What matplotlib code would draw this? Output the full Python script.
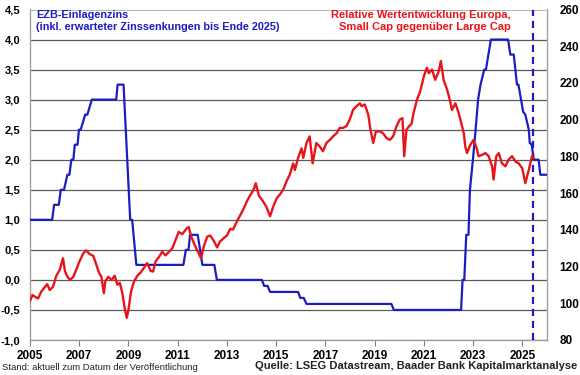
import matplotlib
matplotlib.use('Agg')
import matplotlib.pyplot as plt
from matplotlib.ticker import FuncFormatter

plt.rcParams['font.family'] = ['Liberation Sans', 'DejaVu Sans']

# ECB deposit rate (incl. expected cuts until end of 2025), line vertices as read
rate_years = [2005.00, 2005.90, 2005.98, 2006.17, 2006.25, 2006.38, 2006.52, 2006.60,
              2006.68, 2006.76, 2006.82, 2006.93, 2006.99, 2007.06, 2007.24, 2007.33,
              2007.51, 2008.50, 2008.56, 2008.80, 2009.07, 2009.15, 2009.32, 2011.23,
              2011.33, 2011.44, 2011.50, 2011.81, 2011.91, 2012.00, 2012.49, 2012.59,
              2014.42, 2014.51, 2014.65, 2014.75, 2015.89, 2015.98, 2016.12, 2016.23,
              2019.68, 2019.78, 2022.51, 2022.57, 2022.64, 2022.72, 2022.81, 2022.87,
              2022.99, 2023.10, 2023.20, 2023.30, 2023.45, 2023.52, 2023.72, 2024.42,
              2024.51, 2024.65, 2024.78, 2024.84, 2025.03, 2025.12, 2025.26, 2025.30,
              2025.38, 2025.46, 2025.66, 2025.73, 2026.00]
rate_values = [1.00, 1.00, 1.25, 1.25, 1.50, 1.50, 1.75, 1.75,
               2.00, 2.00, 2.25, 2.25, 2.50, 2.50, 2.75, 2.75,
               3.00, 3.00, 3.25, 3.25, 1.00, 1.00, 0.25, 0.25,
               0.50, 0.50, 0.75, 0.75, 0.50, 0.25, 0.25, 0.00,
               0.00, -0.10, -0.10, -0.20, -0.20, -0.30, -0.30, -0.40,
               -0.40, -0.50, -0.50, 0.00, 0.00, 0.75, 0.75, 1.50,
               2.00, 2.50, 3.00, 3.25, 3.50, 3.50, 4.00, 4.00,
               3.75, 3.75, 3.25, 3.25, 2.80, 2.75, 2.50, 2.28,
               2.25, 2.00, 2.00, 1.75, 1.75]

# Relative performance Europe, small cap vs. large cap (right axis)
rel_years = [2005.00, 2005.10, 2005.20, 2005.33, 2005.45, 2005.60, 2005.70, 2005.80,
             2005.94, 2006.06, 2006.21, 2006.34, 2006.42, 2006.52, 2006.63, 2006.76,
             2006.88, 2007.00, 2007.16, 2007.27, 2007.43, 2007.57, 2007.70, 2007.80,
             2007.90, 2008.00, 2008.06, 2008.18, 2008.32, 2008.44, 2008.55, 2008.65,
             2008.75, 2008.85, 2008.93, 2009.00, 2009.10, 2009.22, 2009.36, 2009.49,
             2009.63, 2009.76, 2009.90, 2010.00, 2010.10, 2010.24, 2010.37, 2010.50,
             2010.63, 2010.77, 2010.90, 2011.04, 2011.18, 2011.37, 2011.45, 2011.55,
             2011.65, 2011.78, 2011.95, 2012.05, 2012.20, 2012.32, 2012.45, 2012.60,
             2012.72, 2012.88, 2013.00, 2013.13, 2013.25, 2013.40, 2013.53, 2013.67,
             2013.80, 2013.93, 2014.08, 2014.17, 2014.30, 2014.45, 2014.60, 2014.75,
             2014.88, 2015.02, 2015.15, 2015.28, 2015.43, 2015.55, 2015.69, 2015.76,
             2015.89, 2016.03, 2016.10, 2016.23, 2016.36, 2016.48, 2016.63, 2016.77,
             2016.90, 2017.04, 2017.18, 2017.31, 2017.45, 2017.58, 2017.72, 2017.85,
             2017.99, 2018.12, 2018.26, 2018.40, 2018.47, 2018.60, 2018.74, 2018.83,
             2018.94, 2019.05, 2019.21, 2019.34, 2019.48, 2019.62, 2019.75, 2019.89,
             2020.02, 2020.13, 2020.20, 2020.29, 2020.40, 2020.50, 2020.58, 2020.72,
             2020.85, 2021.00, 2021.12, 2021.20, 2021.33, 2021.46, 2021.60, 2021.69,
             2021.80, 2021.94, 2022.05, 2022.14, 2022.28, 2022.41, 2022.55, 2022.62,
             2022.68, 2022.75, 2022.89, 2023.02, 2023.16, 2023.22, 2023.36, 2023.50,
             2023.63, 2023.77, 2023.83, 2023.94, 2024.04, 2024.17, 2024.31, 2024.44,
             2024.58, 2024.72, 2024.85, 2024.99, 2025.12, 2025.26, 2025.39, 2025.45]
rel_values = [101.3, 104.5, 103.6, 102.6, 106.2, 108.8, 110.4, 107.2,
              109.1, 114.7, 118.3, 124.5, 117.6, 114.4, 112.7, 114.4,
              118.3, 122.5, 127.1, 128.8, 126.8, 125.8, 120.9, 116.7,
              114.4, 105.5, 112.1, 114.4, 112.7, 115.0, 110.1, 111.1,
              105.5, 97.0, 92.1, 96.4, 106.2, 111.7, 115.0, 116.7,
              119.3, 121.9, 117.6, 117.3, 122.9, 125.2, 128.1, 126.1,
              127.8, 129.7, 134.0, 138.9, 137.6, 140.9, 141.5, 136.3,
              133.0, 129.1, 124.5, 130.7, 136.3, 136.9, 134.3, 130.4,
              133.7, 135.6, 136.9, 140.5, 140.2, 144.5, 147.7, 151.3,
              155.3, 158.5, 161.8, 165.4, 158.5, 155.9, 152.6, 147.4,
              152.6, 157.2, 159.2, 161.8, 166.7, 170.0, 176.2, 172.6,
              179.2, 184.4, 179.2, 187.3, 190.9, 176.2, 187.3, 185.4,
              182.8, 187.3, 189.0, 190.9, 192.6, 195.5, 195.5, 196.5,
              200.1, 205.3, 207.3, 208.9, 207.3, 208.3, 202.7, 194.5,
              187.3, 193.6, 193.6, 192.6, 190.0, 189.0, 190.9, 196.5,
              200.1, 200.8, 180.1, 194.5, 196.5, 197.8, 203.7, 210.9,
              215.5, 223.7, 228.3, 225.3, 227.3, 221.7, 226.3, 231.9,
              221.7, 216.5, 210.9, 205.3, 208.9, 203.7, 196.5, 192.6,
              185.4, 181.8, 186.4, 189.0, 183.7, 180.1, 180.8, 181.8,
              180.1, 174.6, 167.4, 180.1, 181.8, 176.2, 174.6, 178.2,
              180.1, 177.2, 176.2, 173.6, 165.4, 172.6, 180.1, 179.2]

forecast_start = 2025.43

x_ticks = [2005, 2007, 2009, 2011, 2013, 2015, 2017, 2019, 2021, 2023, 2025]
left_ticks = [-1.0, -0.5, 0.0, 0.5, 1.0, 1.5, 2.0, 2.5, 3.0, 3.5, 4.0, 4.5]
right_ticks = [80, 100, 120, 140, 160, 180, 200, 220, 240, 260]

BLUE = '#1c1cc4'
RED = '#e8141a'
W, H = 580, 375

fig = plt.figure(figsize=(W / 100, H / 100), dpi=100)
fig.patch.set_facecolor('white')
ax = fig.add_axes([30 / W, 1 - 340 / H, 517 / W, 330.5 / H])

ax.set_xlim(2005, 2026)
ax.set_ylim(-1.0, 4.5)
ax.set_xticks(x_ticks)
ax.set_yticks(left_ticks)
ax.yaxis.set_major_formatter(FuncFormatter(lambda v, p: f"{v:.1f}".replace('.', ',')))
ax.grid(axis='y', color='#5a5a5a', lw=0.9)
ax.set_axisbelow(True)
for s in ['left', 'bottom', 'right']:
    ax.spines[s].set_color('#a0a0a0')
    ax.spines[s].set_linewidth(1.0)
ax.spines['top'].set_color('#b8b8b8')
ax.tick_params(axis='x', length=4, width=0.8, color='#808080', pad=3,
               labelsize=8.5)
ax.tick_params(axis='y', length=0, pad=7, labelsize=8.1)
for lab in ax.get_xticklabels() + ax.get_yticklabels():
    lab.set_fontweight('bold')

ax.plot(rate_years, rate_values, color=BLUE, lw=1.6, zorder=3)
ax.axvline(forecast_start, color=BLUE, lw=1.6, ls=(0, (3.2, 2.2)), zorder=4)

ax2 = ax.twinx()
ax2.set_ylim(80, 260)
ax2.set_yticks(right_ticks)
ax2.tick_params(axis='y', length=0, pad=9, labelsize=8.5)
for lab in ax2.get_yticklabels():
    lab.set_fontweight('bold')
for s in ax2.spines.values():
    s.set_visible(False)
ax2.plot(rel_years, rel_values, color=RED, lw=1.7, zorder=3)

fig.text(36 / W, 1 - 10 / H, "EZB-Einlagenzins\n(inkl. erwarteter Zinssenkungen bis Ende 2025)",
         color=BLUE, fontsize=7.8, fontweight='bold', ha='left', va='top', linespacing=1.3)
fig.text(511 / W, 1 - 10 / H, "Relative Wertentwicklung Europa,\nSmall Cap gegenüber Large Cap",
         color=RED, fontsize=8.0, fontweight='bold', ha='right', va='top',
         multialignment='right', linespacing=1.2)

fig.text(2 / W, 1 - 367 / H, "Stand: aktuell zum Datum der Veröffentlichung",
         fontsize=6.8, ha='left', va='center', color='#222222')
fig.text(577 / W, 1 - 366 / H, "Quelle: LSEG Datastream, Baader Bank Kapitalmarktanalyse",
         fontsize=8.0, fontweight='bold', ha='right', va='center', color='#222222')

fig.savefig('out.png', dpi=100)
